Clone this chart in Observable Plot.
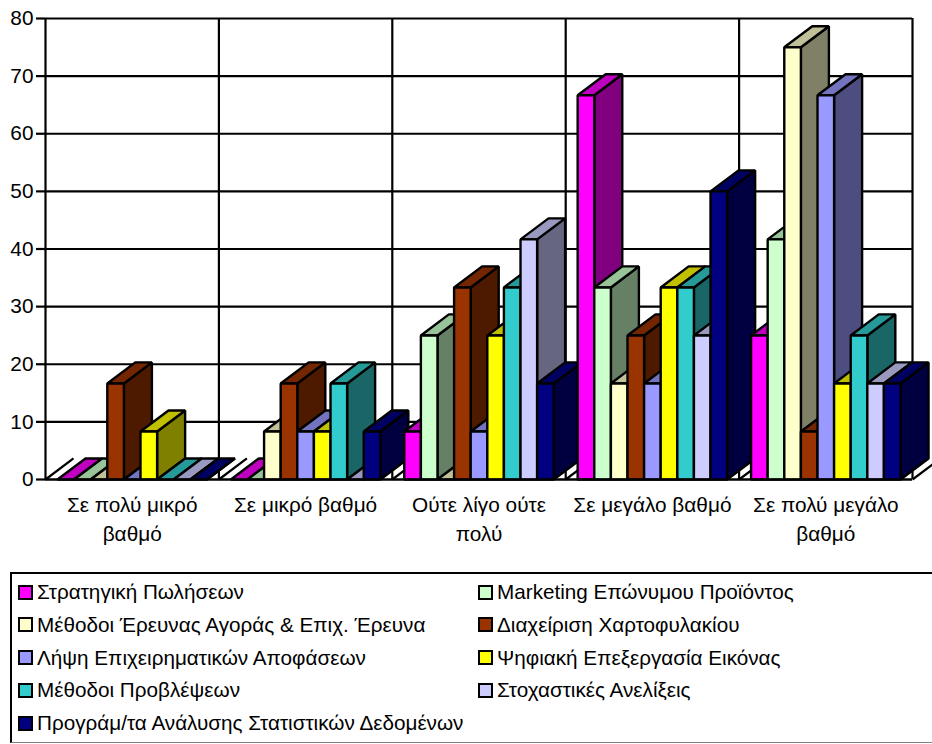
<!DOCTYPE html>
<html lang="el">
<head>
<meta charset="utf-8">
<script src="https://cdn.jsdelivr.net/npm/d3@7"></script>
<script src="https://cdn.jsdelivr.net/npm/@observablehq/plot@0.6"></script>
<style>
  html, body { margin: 0; padding: 0; background: #fff; width: 932px; height: 744px; overflow: hidden; }
  body { font-family: "Liberation Sans", Arial, sans-serif; color: #000; position: relative; }
  svg { display: block; }
  #legend {
    position: absolute; left: 10px; top: 572px; width: 932px; height: 171px;
    box-sizing: border-box; border-left: 2px solid #000; border-top: 2px solid #000; border-bottom: 1px solid #808080; background: #fff;
  }
  #legend .item { position: absolute; display: flex; align-items: center; font-size: 20.7px; white-space: nowrap; line-height: 20px; }
  #legend .swatch { width: 11px; height: 11px; border: 2px solid #000; margin-right: 4px; flex: none; }
</style>
</head>
<body>
<div id="chart"></div>
<div id="legend"></div>
<script>
// Survey of course usefulness: percent of answers per response level and course.
const levels = ["Σε πολύ μικρό\nβαθμό", "Σε μικρό βαθμό", "Ούτε λίγο ούτε\nπολύ", "Σε μεγάλο βαθμό", "Σε πολύ μεγάλο\nβαθμό"];
const courses = [
  "Στρατηγική Πωλήσεων",
  "Marketing Επώνυμου Προϊόντος",
  "Μέθοδοι Έρευνας Αγοράς & Επιχ. Έρευνα",
  "Διαχείριση Χαρτοφυλακίου",
  "Λήψη Επιχειρηματικών Αποφάσεων",
  "Ψηφιακή Επεξεργασία Εικόνας",
  "Μέθοδοι Προβλέψεων",
  "Στοχαστικές Ανελίξεις",
  "Προγράμ/τα Ανάλυσης Στατιστικών Δεδομένων"
];
const strategy   = [0, 0, 8.33, 66.67, 25];
const marketing  = [0, 0, 25, 33.33, 41.67];
const research   = [0, 8.33, 0, 16.67, 75];
const portfolio  = [16.67, 16.67, 33.33, 25, 8.33];
const decisions  = [0, 8.33, 8.33, 16.67, 66.67];
const imaging    = [8.33, 8.33, 25, 33.33, 16.67];
const forecasts  = [0, 16.67, 33.33, 33.33, 25];
const stochastic = [0, 0, 41.67, 25, 16.67];
const software   = [0, 8.33, 16.67, 50, 16.67];
const series = [strategy, marketing, research, portfolio, decisions, imaging, forecasts, stochastic, software];

const frontColors = ["#ff00ff", "#ccffcc", "#ffffcc", "#993300", "#9999ff", "#ffff00", "#33cccc", "#ccccff", "#000080"];
const topColors   = ["#c000c0", "#99c399", "#c0c099", "#732600", "#7373c0", "#c0c000", "#269999", "#9999c0", "#000060"];
const sideColors  = ["#800080", "#668066", "#808066", "#4d1a00", "#4d4d80", "#808000", "#1a6666", "#666680", "#000040"];

const yTicks = d3.range(0, 81, 10);
const groupEdges = d3.range(0, levels.length + 1);

// Oblique projection of the bars, expressed in data units of the two scales.
const depthX = 0.1615;
const depthY = 3.65;
const groupInset = 0.069;
const barWidth = (1 - 2 * groupInset) / courses.length;

// One closed polygon per visible face; later rows paint over earlier ones.
const faces = [];
levels.forEach((_, g) => {
  series.forEach((values, s) => {
    const v = values[g];
    const x0 = g + groupInset + s * barWidth;
    const x1 = x0 + barWidth;
    const face = (name, color, corners) =>
      corners.forEach(([x, y]) => faces.push({id: `${g}-${s}-${name}`, color, x, y}));
    face("side", sideColors[s], [[x1, 0], [x1 + depthX, depthY], [x1 + depthX, v + depthY], [x1, v]]);
    face("top", topColors[s], [[x0, v], [x1, v], [x1 + depthX, v + depthY], [x0 + depthX, v + depthY]]);
    if (v > 0) face("front", frontColors[s], [[x0, 0], [x1, 0], [x1, v], [x0, v]]);
  });
});

const chart = Plot.plot({
  width: 932,
  height: 560,
  marginLeft: 45,
  marginRight: 20,
  marginTop: 18,
  marginBottom: 81,
  style: {background: "#fff", color: "#000", fontFamily: "Liberation Sans, Arial, sans-serif", overflow: "hidden"},
  x: {domain: [0, levels.length], range: [45, 912]},
  y: {domain: [0, 80], range: [479, 18]},
  color: {type: "identity"},
  marks: [
    Plot.ruleY(yTicks, {x1: 0, x2: levels.length, stroke: "#000", strokeWidth: 2.2}),
    Plot.ruleX(groupEdges, {y1: 0, y2: 80, stroke: "#000", strokeWidth: 2.2}),
    // Floor edges running back from each category boundary
    Plot.link(groupEdges, {x1: d => d, y1: 0, x2: d => d + depthX, y2: depthY, stroke: "#000", strokeWidth: 2.2}),
    Plot.line(faces, {
      x: "x", y: "y", z: "id", fill: "color",
      stroke: "#000", strokeWidth: 2.4, strokeLinejoin: "miter",
      curve: "linear-closed"
    }),
    Plot.ruleY([0], {x1: 0, x2: levels.length, stroke: "#000", strokeWidth: 2.2}),
    Plot.axisY({ticks: yTicks, tickSize: 9, tickPadding: 3, fontSize: 20.8, strokeWidth: 2.2, label: null}),
    Plot.axisX({
      ticks: levels.map((_, i) => i + 0.5),
      tickFormat: d => levels[d - 0.5],
      tickSize: 0, tickPadding: 13, fontSize: 20.8, lineHeight: 1.35, label: null
    })
  ]
});
document.getElementById("chart").append(chart);

// Legend below the chart: two columns, filled row by row.
const legend = document.getElementById("legend");
const rowTop = 8, rowStep = 32.75;
courses.forEach((name, i) => {
  const item = document.createElement("div");
  item.className = "item";
  item.style.left = (i % 2 ? 466 : 6) + "px";
  item.style.top = (rowTop + Math.floor(i / 2) * rowStep) + "px";
  const swatch = document.createElement("span");
  swatch.className = "swatch";
  swatch.style.background = frontColors[i];
  item.append(swatch, name);
  legend.append(item);
});
</script>
</body>
</html>
